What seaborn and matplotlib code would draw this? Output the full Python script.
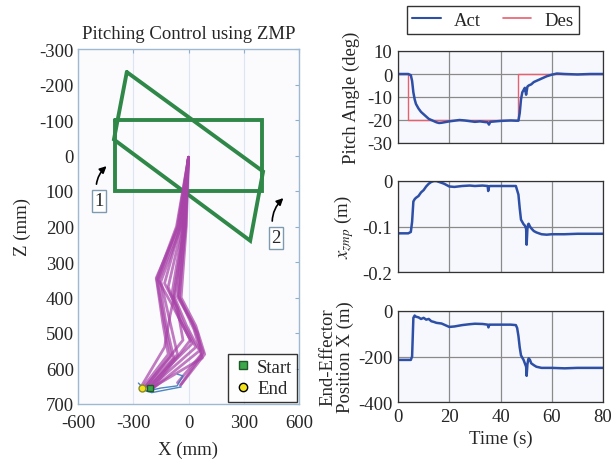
import numpy as np
import pandas as pd
import matplotlib
matplotlib.use("Agg")
import matplotlib.pyplot as plt
import seaborn as sns
from matplotlib.lines import Line2D

sns.set_style("white")
plt.rcParams['font.family'] = ['Liberation Serif', 'DejaVu Serif']
plt.rcParams['mathtext.fontset'] = 'stix'
plt.rcParams['axes.unicode_minus'] = False

# ---------------- data: left panel ----------------
rect_x = [-400, 400, 400, -400, -400]
rect_z = [-100, -100, 100, 100, -100]
para_x = [-335, 405, 335, -405, -335]
para_z = [-235, 45, 240, -45, -235]

traj_x = [
    [0, -55, -175, -140, -110, -240],
    [0, -48, -160, -120, -80, -220],
    [0, -40, -150, -100, -60, -210],
    [0, -30, -90, -30, 40, -200],
    [0, -25, -80, -10, 60, -190],
    [0, -12, -40, 40, 88, -40],
    [0, -18, -50, 30, 75, -200],
    [0, -45, -130, -60, -30, -230],
    [0, -60, -165, -90, 10, -200],
    [0, -20, -70, -100, -130, -250],
    [0, -35, -110, -50, 20, -215],
    [0, -15, -55, 50, 70, -60],
    [0, -65, -172, -130, -95, -235],
    [0, -28, -60, 20, 80, -45],
]
traj_z = [
    [5, 200, 345, 470, 560, 648],
    [5, 200, 350, 480, 570, 650],
    [5, 200, 355, 470, 560, 655],
    [5, 200, 390, 470, 540, 650],
    [5, 200, 395, 480, 550, 655],
    [5, 200, 400, 480, 560, 645],
    [5, 200, 400, 490, 570, 655],
    [5, 200, 360, 430, 520, 650],
    [5, 200, 350, 420, 520, 660],
    [5, 200, 380, 450, 540, 645],
    [5, 200, 370, 460, 530, 650],
    [5, 200, 395, 500, 560, 640],
    [5, 200, 348, 475, 565, 652],
    [5, 200, 398, 470, 555, 648],
]
blue_x = [[-272, -228, -150, -62, -30, -60], [-245, -200, -120, -40]]
blue_z = [[641, 664, 655, 649, 621, 616], [660, 668, 660, 652]]
start_pt = (-209, 655)
end_pt = (-253, 655)

# ---------------- data: right panels ----------------
t_pitch = [0, 4, 5, 5.5, 6, 6.5, 7, 8, 9, 10, 11, 12, 13, 14, 15, 16, 17, 18, 19, 20,
           22, 24, 26, 28, 30, 32, 34, 35, 35.5, 36, 38, 40, 42, 44, 46, 47, 47.5, 48, 48.5, 49,
           49.5, 50, 50.5, 51, 52, 53, 54, 55, 56, 57, 58, 60, 62, 65, 70, 75, 80]
pitch_act = [0, 0, -0.5, -3, -8, -11, -13, -15, -16.5, -17.5, -18.5, -19.5, -20, -20.5, -21, -21.3, -21.2, -21, -20.8, -20.6,
             -20.3, -20, -20.2, -20.5, -20.8, -20.6, -20.9, -21, -22, -20.8, -20.6, -20.4, -20.3, -20.2, -20.3, -20.3, -17, -11, -8, -7,
             -6, -9, -5.5, -5, -4.5, -3.5, -3, -2.5, -2, -1.5, -1, -0.3, 0.2, 0, -0.2, 0, 0]
t_des = [0, 4, 4, 47, 47, 80]
pitch_des = [0, 0, -20, -20, 0, 0]

t_zmp = [0, 4, 5, 5.5, 6, 6.5, 7, 8, 9, 10, 11, 12, 13, 14, 15, 16, 18, 20, 22, 25,
         28, 30, 33, 35, 35.2, 35.5, 36, 40, 44, 46, 47, 47.5, 48, 48.5, 49, 49.5, 50, 50.2, 50.5, 50.8,
         51, 51.5, 52, 53, 54, 56, 58, 60, 65, 70, 75, 80]
x_zmp = [-0.115, -0.115, -0.112, -0.09, -0.045, -0.04, -0.037, -0.033, -0.025, -0.02, -0.012, -0.006, -0.002, 0, 0, -0.002, -0.006, -0.012, -0.013, -0.011,
         -0.010, -0.011, -0.010, -0.011, -0.022, -0.012, -0.011, -0.011, -0.011, -0.011, -0.03, -0.06, -0.085, -0.09, -0.095, -0.098, -0.105, -0.14, -0.105, -0.095,
         -0.094, -0.1, -0.104, -0.11, -0.113, -0.117, -0.118, -0.117, -0.117, -0.116, -0.116, -0.116]

t_ee = [0, 5, 5.5, 6, 6.5, 7, 8, 9, 10, 11, 12, 13, 14, 15, 17, 19, 20, 22, 25, 28,
        30, 33, 35, 35.3, 35.6, 36, 40, 44, 46, 46.5, 47, 47.5, 48, 48.5, 49, 49.5, 50, 50.2, 50.5, 50.8,
        51, 51.5, 52, 53, 54, 56, 60, 65, 70, 75, 80]
ee_x = [-215, -215, -200, -30, -20, -25, -28, -35, -30, -38, -35, -45, -48, -52, -55, -65, -70, -68, -62, -58,
        -56, -57, -60, -72, -60, -60, -60, -60, -62, -75, -110, -160, -195, -205, -215, -230, -245, -285, -235, -215,
        -208, -215, -230, -238, -245, -250, -250, -252, -250, -250, -250]

# ---------------- figure ----------------
W, H = 611, 460
fig = plt.figure(figsize=(W / 100, H / 100), dpi=100)

def px_axes(x0, y0, x1, y1):
    return fig.add_axes([x0 / W, 1 - y1 / H, (x1 - x0) / W, (y1 - y0) / H])

FS = 13.5
green = '#2f8848'
magenta = '#a843a8'
blue = '#2d4fa6'
red = '#e8606e'

# ---- left panel ----
axL = px_axes(78, 50, 299, 405)
axL.set_facecolor('#fbfbfe')
for xs, zs in [(rect_x, rect_z), (para_x, para_z)]:
    d = pd.DataFrame({'x': xs, 'z': zs})
    sns.lineplot(data=d, x='x', y='z', sort=False, estimator=None, ax=axL,
                 color=green, lw=2.8, solid_joinstyle='miter')

rows = []
for i, (xs, zs) in enumerate(zip(traj_x, traj_z)):
    for x, z in zip(xs, zs):
        rows.append((i, x, z))
dtraj = pd.DataFrame(rows, columns=['id', 'x', 'z'])
sns.lineplot(data=dtraj, x='x', y='z', units='id', estimator=None, sort=False,
             ax=axL, color=magenta, lw=2.0, alpha=0.7)

rows = []
for i, (xs, zs) in enumerate(zip(blue_x, blue_z)):
    for x, z in zip(xs, zs):
        rows.append((i, x, z))
dblue = pd.DataFrame(rows, columns=['id', 'x', 'z'])
sns.lineplot(data=dblue, x='x', y='z', units='id', estimator=None, sort=False,
             ax=axL, color='#3a78b8', lw=1.0, alpha=0.9)

axL.plot([end_pt[0]], [end_pt[1]], 'o', ms=5, mfc='#f2e21a', mec='#8a8a2a', zorder=5)
axL.plot([start_pt[0]], [start_pt[1]], 's', ms=5, mfc='#3ca84a', mec='#1e5a26', zorder=6)

axL.set_xlim(-600, 600)
axL.set_ylim(700, -300)
axL.set_xticks([-600, -300, 0, 300, 600])
axL.set_yticks(list(range(-300, 701, 100)))
axL.tick_params(labelsize=FS, direction='in', length=3, color='#8fb0cc',
                top=True, right=True)
axL.tick_params(axis='x', pad=7)
axL.tick_params(axis='y', pad=3)
axL.grid(True, axis='x', color='#dbe6f2', lw=0.8)
for s in axL.spines.values():
    s.set_color('#9fbad0')
    s.set_linewidth(1.0)
axL.set_xlabel('X (mm)', fontsize=FS, labelpad=7)
axL.set_ylabel('Z (mm)', fontsize=FS, labelpad=6)
axL.set_title('Pitching Control using ZMP', fontsize=FS, pad=8)

boxprops = dict(boxstyle='square,pad=0.12', fc='white', ec='#7d9ab0', lw=1.0)
axL.annotate('1', xy=(-445, 30), xytext=(-485, 128), fontsize=FS, ha='center', va='center',
             bbox=boxprops,
             arrowprops=dict(arrowstyle='-|>', color='black', lw=1.2, mutation_scale=10,
                             connectionstyle='arc3,rad=-0.35', shrinkA=4, shrinkB=0))
axL.annotate('2', xy=(515, 120), xytext=(475, 232), fontsize=FS, ha='center', va='center',
             bbox=boxprops,
             arrowprops=dict(arrowstyle='-|>', color='black', lw=1.2, mutation_scale=10,
                             connectionstyle='arc3,rad=-0.35', shrinkA=4, shrinkB=0))

hL = [Line2D([], [], ls='none', marker='s', ms=6, mfc='#3ca84a', mec='#1e5a26'),
      Line2D([], [], ls='none', marker='o', ms=6, mfc='#f2e21a', mec='black')]
legL = axL.legend(hL, ['Start', 'End'], loc='lower right', fontsize=FS, frameon=True,
                  fancybox=False, edgecolor='black', borderpad=0.25, handletextpad=0.2,
                  labelspacing=0.25, borderaxespad=0.1, handlelength=1.1)
legL.get_frame().set_linewidth(1.0)

# ---- right panels ----
def style_right(ax):
    ax.set_facecolor('#f7f8fd')
    ax.grid(True, color='#8a8a8a', lw=0.9)
    ax.tick_params(labelsize=FS, length=0, pad=4)
    ax.set_xlim(0, 80)
    ax.set_xticks([0, 20, 40, 60, 80])
    for s in ax.spines.values():
        s.set_color('#333333')
        s.set_linewidth(0.9)

ax1 = px_axes(398, 52, 603, 144)
d1 = pd.DataFrame({'t': t_pitch, 'v': pitch_act})
d1d = pd.DataFrame({'t': t_des, 'v': pitch_des})
sns.lineplot(data=d1d, x='t', y='v', sort=False, estimator=None, ax=ax1, color=red, lw=1.0)
sns.lineplot(data=d1, x='t', y='v', sort=False, estimator=None, ax=ax1, color=blue, lw=1.8)
style_right(ax1)
ax1.set_ylim(-30, 10)
ax1.set_yticks([-30, -20, -10, 0, 10])
ax1.set_xticklabels([])
ax1.set_xlabel('')
ax1.set_ylabel('Pitch Angle (deg)', fontsize=FS, labelpad=5)

ax2 = px_axes(398, 182, 603, 273)
d2 = pd.DataFrame({'t': t_zmp, 'v': x_zmp})
sns.lineplot(data=d2, x='t', y='v', sort=False, estimator=None, ax=ax2, color=blue, lw=1.8)
style_right(ax2)
ax2.set_ylim(-0.2, 0)
ax2.set_yticks([-0.2, -0.1, 0])
ax2.set_yticklabels(['-0.2', '-0.1', '0'])
ax2.set_xticklabels([])
ax2.set_xlabel('')
ax2.set_ylabel(r'$x_{zmp}$ (m)', fontsize=FS, labelpad=5)

ax3 = px_axes(398, 312, 603, 403)
d3 = pd.DataFrame({'t': t_ee, 'v': ee_x})
sns.lineplot(data=d3, x='t', y='v', sort=False, estimator=None, ax=ax3, color=blue, lw=1.8)
style_right(ax3)
ax3.set_ylim(-400, 0)
ax3.set_yticks([-400, -200, 0])
ax3.tick_params(axis='x', pad=4)
ax3.set_xlabel('Time (s)', fontsize=FS, labelpad=4)
ax3.set_ylabel('End-Effector\nPosition X (m)', fontsize=FS, labelpad=3, linespacing=1.0)

hR = [Line2D([], [], color=blue, lw=1.5), Line2D([], [], color=red, lw=1.2)]
legR = fig.legend(hR, ['Act', 'Des'], loc='center', bbox_to_anchor=(493 / W, 1 - 21 / H),
                  ncol=2, fontsize=FS, frameon=True, fancybox=False, edgecolor='black',
                  borderpad=0.3, columnspacing=1.2, handlelength=1.5, handletextpad=0.7)
legR.get_frame().set_linewidth(1.0)

fig.savefig('out.png', dpi=100)
